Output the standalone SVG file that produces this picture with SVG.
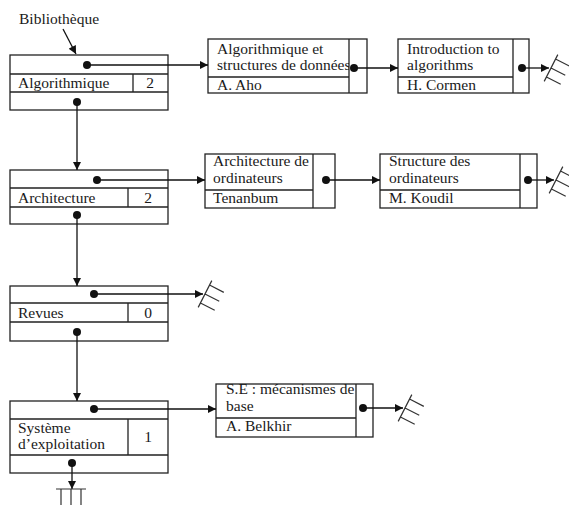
<svg xmlns="http://www.w3.org/2000/svg" width="569" height="506" viewBox="0 0 569 506">
<style>
  .box{fill:#fff;stroke:#222;stroke-width:1.3}
  .ln{stroke:#222;stroke-width:1.3;fill:none}
  .t{font-family:"Liberation Serif","Times New Roman",serif;font-size:15.5px;fill:#1a1a1a}
  .c{stroke:#111;stroke-width:1.3;fill:none;marker-end:url(#ah)}
  .cd{stroke:#111;stroke-width:1.3;fill:none;marker-start:url(#dot);marker-end:url(#ah)}
  .g{stroke:#333;stroke-width:1.2;fill:none}
</style>
<defs>
  <marker id="ah" viewBox="0 0 10 10" refX="10" refY="5" markerWidth="9" markerHeight="8" markerUnits="userSpaceOnUse" orient="auto">
    <path d="M0,0 L10,5 L0,10 z" fill="#111"/>
  </marker>
  <marker id="dot" viewBox="0 0 10 10" refX="5" refY="5" markerWidth="8" markerHeight="8" markerUnits="userSpaceOnUse" orient="auto">
    <circle cx="5" cy="5" r="5" fill="#111"/>
  </marker>
  <path id="gnd" class="g" d="M-15,0 H15 M-10,0 V16 M0,0 V16 M10,0 V16"/>
  <clipPath id="clipA"><rect x="208" y="39" width="141" height="38"/></clipPath>
  <clipPath id="clipC"><rect x="205" y="154" width="108" height="36"/></clipPath>
</defs>

<text class="t" x="19" y="24">Bibliothèque</text>

<g id="node-algorithmique">
  <rect class="box" x="10" y="55" width="158" height="55"/>
  <path class="ln" d="M10,74 H168 M10,92 H168 M133,74 V92"/>
  <text class="t" x="18" y="88">Algorithmique</text>
  <text class="t" x="150" y="88" text-anchor="middle">2</text>
</g>

<g id="node-architecture">
  <rect class="box" x="10" y="170" width="158" height="54"/>
  <path class="ln" d="M10,188 H168 M10,207 H168 M128,188 V207"/>
  <text class="t" x="18" y="203">Architecture</text>
  <text class="t" x="148" y="203" text-anchor="middle">2</text>
</g>

<g id="node-revues">
  <rect class="box" x="10" y="286" width="158" height="55"/>
  <path class="ln" d="M10,303 H168 M10,322 H168 M128,303 V322"/>
  <text class="t" x="18" y="318">Revues</text>
  <text class="t" x="148" y="318" text-anchor="middle">0</text>
</g>

<g id="node-systeme">
  <rect class="box" x="10" y="401" width="158" height="72"/>
  <path class="ln" d="M10,419 H168 M10,455 H168 M128,419 V455"/>
  <text class="t" x="18" y="433">Système</text>
  <text class="t" x="18" y="449">d’exploitation</text>
  <text class="t" x="148" y="442" text-anchor="middle">1</text>
</g>

<g id="node-algo-struct">
  <rect class="box" x="208" y="39" width="159" height="54"/>
  <path class="ln" d="M208,77 H349 M349,39 V93"/>
  <text class="t" x="217" y="54">Algorithmique et</text>
  <text class="t" x="217" y="70" clip-path="url(#clipA)">structures de données</text>
  <text class="t" x="217" y="90">A. Aho</text>
</g>

<g id="node-intro-algo">
  <rect class="box" x="398" y="39" width="131" height="54"/>
  <path class="ln" d="M398,77 H513 M513,39 V93"/>
  <text class="t" x="407" y="54">Introduction to</text>
  <text class="t" x="407" y="70">algorithms</text>
  <text class="t" x="407" y="90">H. Cormen</text>
</g>

<g id="node-archi-ordi">
  <rect class="box" x="205" y="154" width="130" height="54"/>
  <path class="ln" d="M205,190 H313 M313,154 V208"/>
  <text class="t" x="213" y="166" clip-path="url(#clipC)">Architecture de</text>
  <text class="t" x="213" y="183">ordinateurs</text>
  <text class="t" x="213" y="203">Tenanbum</text>
</g>

<g id="node-struct-ordi">
  <rect class="box" x="380" y="154" width="157" height="54"/>
  <path class="ln" d="M380,190 H520 M520,154 V208"/>
  <text class="t" x="389" y="166">Structure des</text>
  <text class="t" x="389" y="183">ordinateurs</text>
  <text class="t" x="389" y="203">M. Koudil</text>
</g>

<g id="node-se">
  <rect class="box" x="216" y="384" width="157" height="53"/>
  <path class="ln" d="M216,418 H356 M356,384 V437"/>
  <text class="t" x="226" y="394">S.E : mécanismes de</text>
  <text class="t" x="226" y="411">base</text>
  <text class="t" x="226" y="431">A. Belkhir</text>
</g>

<g id="connectors">
  <path class="c" d="M63,29 L76,54"/>
  <path class="cd" d="M87,65 H208"/>
  <path class="cd" d="M354,68 H398"/>
  <path class="cd" d="M522,68 H549"/>
  <path class="cd" d="M77,102 V170"/>
  <path class="cd" d="M97,180 H205"/>
  <path class="cd" d="M326,180 H380"/>
  <path class="cd" d="M528,180 H554"/>
  <path class="cd" d="M77,215 V286"/>
  <path class="cd" d="M94,294 H203"/>
  <path class="cd" d="M77,332 V401"/>
  <path class="cd" d="M94,409 H216"/>
  <path class="cd" d="M363,408 H403"/>
  <path class="cd" d="M72,463 V489"/>
  <use href="#gnd" transform="translate(551,68) rotate(-63)"/>
  <use href="#gnd" transform="translate(556,180) rotate(-63)"/>
  <use href="#gnd" transform="translate(205,294) rotate(-63)"/>
  <use href="#gnd" transform="translate(405,408) rotate(-63)"/>
  <use href="#gnd" transform="translate(71,489)"/>
</g>
</svg>
